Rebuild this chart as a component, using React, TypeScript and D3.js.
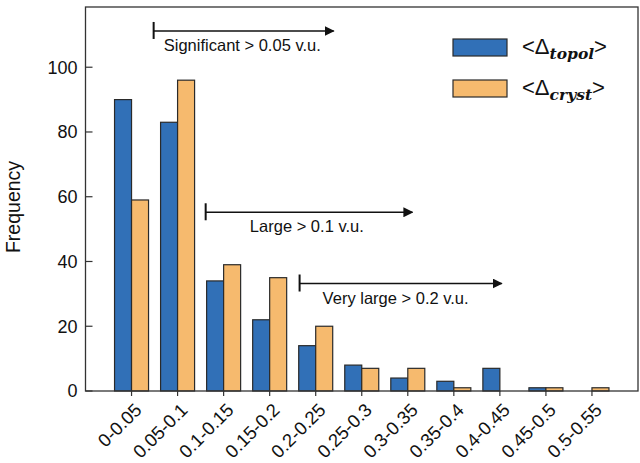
import React from "react";
import * as d3 from "d3";

const categories = ["0-0.05", "0.05-0.1", "0.1-0.15", "0.15-0.2", "0.2-0.25", "0.25-0.3", "0.3-0.35", "0.35-0.4", "0.4-0.45", "0.45-0.5", "0.5-0.55"];
const topolValues = [90, 83, 34, 22, 14, 8, 4, 3, 7, 1, 0];
const crystValues = [59, 96, 39, 35, 20, 7, 7, 1, 0, 1, 1];
const yTicks = [0, 20, 40, 60, 80, 100];
const seriesNames = ["topol", "cryst"];
const seriesColors = ["#3170b7", "#f6ba6e"];
const annotations = [
  { text: "Significant > 0.05 v.u.", start: 0.48, end: 4.39, y: 111.2, textAt: 0.7 },
  { text: "Large > 0.1 v.u.", start: 1.61, end: 6.1, y: 55.2, textAt: 2.57 },
  { text: "Very large > 0.2 v.u.", start: 3.65, end: 8.04, y: 33.2, textAt: 4.15 },
];

const W = 640, H = 463;
const left = 85.5, right = 638, top = 7, bottom = 391;

export default function App() {
  const x = d3.scaleLinear().domain([-1, categories.length]).range([left, right]);
  const y = d3.scaleLinear().domain([0, 118.6]).range([bottom, top]);
  const barW = 17;
  const font = "'Liberation Sans', Arial, sans-serif";
  const stroke = "#2a2a2a";
  return (
    <svg width={W} height={H} style={{ position: "absolute", left: 0, top: 0, background: "#fff" }} fontFamily={font}>
      <defs>
        <marker id="arr" viewBox="0 0 10 10" refX="9" refY="5" markerWidth="10" markerHeight="10" markerUnits="userSpaceOnUse" orient="auto">
          <path d="M0,0 L10,5 L0,10 Z" fill="#111" />
        </marker>
      </defs>
      {categories.map((c, i) => (
        <g key={c}>
          {topolValues[i] > 0 && (
            <rect x={x(i) - barW} y={y(topolValues[i])} width={barW} height={y(0) - y(topolValues[i])} fill={seriesColors[0]} stroke={stroke} strokeWidth={1.2} />
          )}
          {crystValues[i] > 0 && (
            <rect x={x(i)} y={y(crystValues[i])} width={barW} height={y(0) - y(crystValues[i])} fill={seriesColors[1]} stroke={stroke} strokeWidth={1.2} />
          )}
        </g>
      ))}
      <rect x={left} y={top} width={right - left} height={bottom - top} fill="none" stroke="#333" strokeWidth={1.3} />
      {yTicks.map((t) => (
        <g key={t}>
          <line x1={left} x2={left + 7} y1={y(t)} y2={y(t)} stroke="#333" strokeWidth={1.2} />
          <text x={left - 8} y={y(t)} dy="0.36em" textAnchor="end" fontSize={18} fill="#111">{t}</text>
        </g>
      ))}
      {categories.map((c, i) => (
        <g key={c}>
          <line x1={x(i)} x2={x(i)} y1={bottom} y2={bottom + 5} stroke="#333" strokeWidth={1.2} />
          <text transform={`translate(${x(i) + 2},${bottom + 11}) rotate(-45)`} textAnchor="end" dy="0.7em" fontSize={18.5} fill="#111">{c}</text>
        </g>
      ))}
      <text transform={`translate(20,${(top + bottom) / 2 + 8}) rotate(-90)`} textAnchor="middle" fontSize={19.5} fill="#111">Frequency</text>
      {annotations.map((a) => {
        const yy = y(a.y);
        const x0 = x(a.start), x1 = x(a.end);
        return (
          <g key={a.text}>
            <line x1={x0} x2={x0} y1={yy - 9} y2={yy + 8} stroke="#111" strokeWidth={2} />
            <line x1={x0} x2={x1} y1={yy} y2={yy} stroke="#111" strokeWidth={1.6} markerEnd="url(#arr)" />
            <text x={x(a.textAt)} y={yy + 20} fontSize={16.5} fill="#111">{a.text}</text>
          </g>
        );
      })}
      {seriesNames.map((s, i) => (
        <g key={s} transform={`translate(453,${39 + i * 41})`}>
          <rect x={0} y={0} width={54} height={17} fill={seriesColors[i]} stroke={stroke} strokeWidth={1.2} />
          <text x={69} y={15} fontSize={22} fill="#111" fontFamily="'Liberation Sans', sans-serif">
            {"<Δ"}
            <tspan fontFamily="'DejaVu Serif', serif" fontStyle="italic" fontWeight="bold" fontSize={15.5} dy={5}>{s}</tspan>
            <tspan dy={-5}>{">"}</tspan>
          </text>
        </g>
      ))}
    </svg>
  );
}
